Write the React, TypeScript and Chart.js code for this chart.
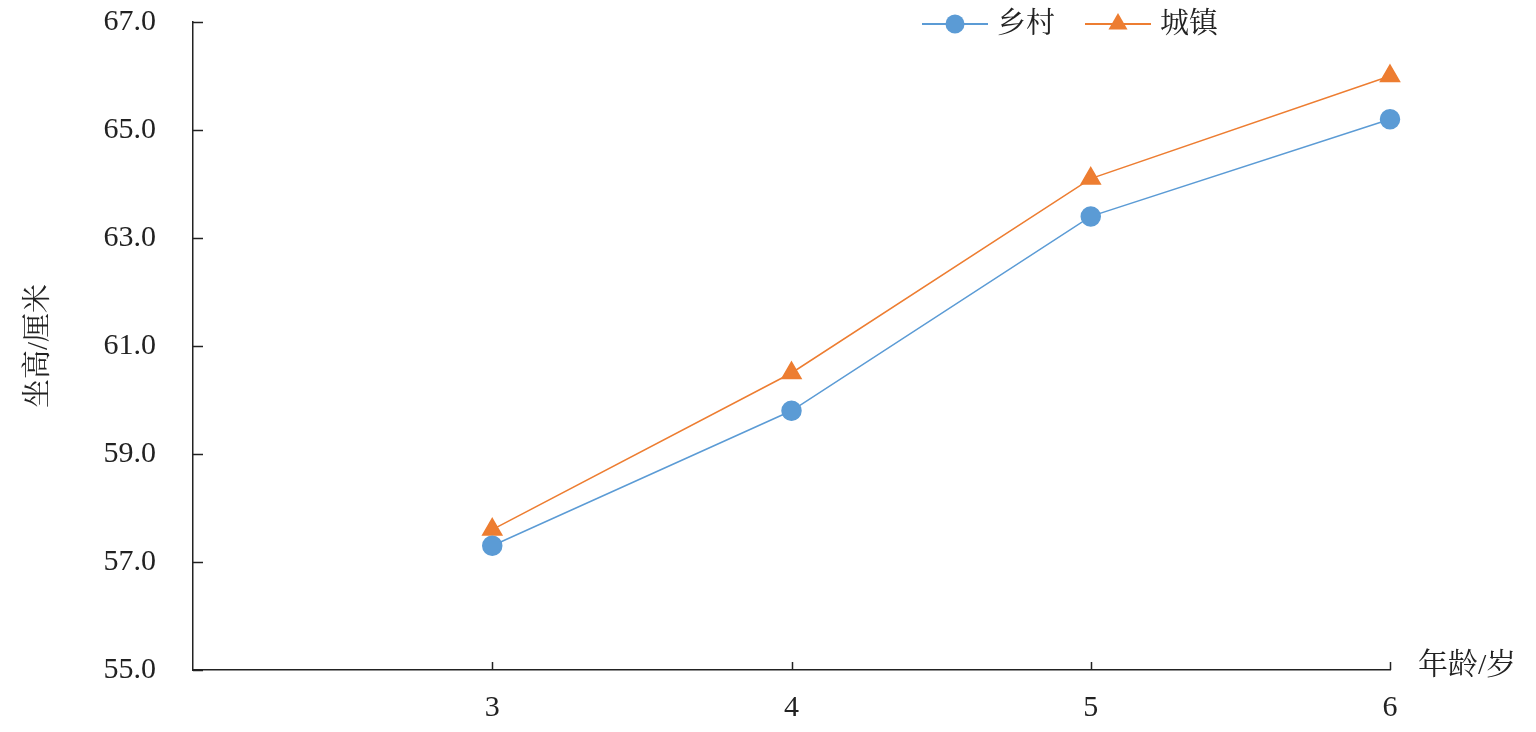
import React, { useEffect, useRef } from "react";
import { Chart, registerables } from "chart.js";
Chart.register(...registerables);

const ages = [3, 4, 5, 6];
const rural = [57.3, 59.8, 63.4, 65.2];
const urban = [57.6, 60.5, 64.1, 66.0];
const seriesNames = ["乡村", "城镇"];
const xTitle = "年龄/岁";
const yTitle = "坐高/厘米";
const yMin = 55;
const yMax = 67;
const yStep = 2;
const xMin = 2;
const xMax = 6;

const FONT = '"Liberation Serif", "Noto Serif CJK SC", "Noto Sans CJK SC", serif';
const BLUE = "#5B9BD5";
const ORANGE = "#ED7D31";
const AXIS = "#222222";

const innerTicks = {
  id: "innerTicks",
  afterDraw(chart: any) {
    const { ctx, chartArea, scales } = chart;
    ctx.save();
    ctx.strokeStyle = AXIS;
    ctx.lineWidth = 1.5;
    scales.y.ticks.forEach((t: any) => {
      const y = Math.round(scales.y.getPixelForValue(t.value)) + 0.5;
      ctx.beginPath();
      ctx.moveTo(chartArea.left, y);
      ctx.lineTo(chartArea.left + 10, y);
      ctx.stroke();
    });
    scales.x.ticks.forEach((t: any) => {
      if (t.value === xMin) return;
      const x = Math.round(scales.x.getPixelForValue(t.value)) + 0.5;
      ctx.beginPath();
      ctx.moveTo(x, chartArea.bottom);
      ctx.lineTo(x, chartArea.bottom - 8);
      ctx.stroke();
    });
    // x axis title at right end
    ctx.fillStyle = AXIS;
    ctx.font = `30px ${FONT}`;
    ctx.textAlign = "left";
    ctx.textBaseline = "middle";
    ctx.fillText(xTitle, chartArea.right + 28, chartArea.bottom - 4);
    ctx.restore();
  },
};

const customLegend = {
  id: "customLegend",
  afterDraw(chart: any) {
    const { ctx } = chart;
    ctx.save();
    let x = 922;
    const y = 24;
    ctx.font = `29px ${FONT}`;
    ctx.textBaseline = "middle";
    ctx.textAlign = "left";
    chart.data.datasets.forEach((ds: any) => {
      ctx.strokeStyle = ds.borderColor;
      ctx.lineWidth = 2;
      ctx.beginPath();
      ctx.moveTo(x, y);
      ctx.lineTo(x + 66, y);
      ctx.stroke();
      ctx.fillStyle = ds.pointBackgroundColor;
      const cx = x + 33;
      if (ds.pointStyle === "triangle") {
        const r = ds.pointRadius;
        ctx.beginPath();
        ctx.moveTo(cx, y - r);
        ctx.lineTo(cx + r * Math.sin(Math.PI / 3), y + r * 0.5);
        ctx.lineTo(cx - r * Math.sin(Math.PI / 3), y + r * 0.5);
        ctx.closePath();
        ctx.fill();
      } else {
        ctx.beginPath();
        ctx.arc(cx, y, ds.pointRadius, 0, Math.PI * 2);
        ctx.fill();
      }
      ctx.fillStyle = AXIS;
      ctx.fillText(ds.label, x + 75, y + 1);
      x += 75 + ctx.measureText(ds.label).width + 30;
    });
    ctx.restore();
  },
};

export default function App() {
  const ref = useRef<HTMLCanvasElement>(null);
  useEffect(() => {
    if (!ref.current) return;
    const chart = new Chart(ref.current, {
      type: "line",
      data: {
        datasets: [
          {
            label: seriesNames[0],
            data: ages.map((a, i) => ({ x: a, y: rural[i] })),
            borderColor: BLUE,
            backgroundColor: BLUE,
            pointBackgroundColor: BLUE,
            pointBorderColor: BLUE,
            pointStyle: "circle",
            pointRadius: 9.5,
            borderWidth: 1.5,
            tension: 0,
            clip: false,
          },
          {
            label: seriesNames[1],
            data: ages.map((a, i) => ({ x: a, y: urban[i] })),
            borderColor: ORANGE,
            backgroundColor: ORANGE,
            pointBackgroundColor: ORANGE,
            pointBorderColor: ORANGE,
            pointStyle: "triangle",
            pointRadius: 11,
            borderWidth: 1.5,
            tension: 0,
            clip: false,
          },
        ],
      },
      options: {
        animation: false,
        responsive: true,
        maintainAspectRatio: false,
        layout: { padding: { top: 22, right: 146, left: 0, bottom: 0 } },
        plugins: {
          legend: { display: false },
          tooltip: { enabled: false },
        },
        scales: {
          x: {
            type: "linear",
            min: xMin,
            max: xMax,
            ticks: {
              stepSize: 1,
              color: AXIS,
              font: { family: FONT, size: 30 },
              padding: 20,
              callback: (v: any) => (v === xMin ? "" : String(v)),
              maxRotation: 0,
            },
            grid: { display: false, drawTicks: false },
            border: { display: true, color: AXIS, width: 1.5 },
            afterFit: (s: any) => {
              s.height = 62;
              s.paddingLeft = 0;
              s.paddingRight = 0;
            },
          },
          y: {
            min: yMin,
            max: yMax,
            ticks: {
              stepSize: yStep,
              color: AXIS,
              font: { family: FONT, size: 30 },
              padding: 37,
              callback: (v: any) => Number(v).toFixed(1),
            },
            grid: { display: false, drawTicks: false },
            border: { display: true, color: AXIS, width: 1.5 },
            title: {
              display: true,
              text: yTitle,
              color: AXIS,
              font: { family: FONT, size: 29 },
              padding: { top: 22, bottom: 0 },
            },
            afterFit: (s: any) => {
              s.width = 193;
              s.paddingTop = 0;
              s.paddingBottom = 0;
            },
          },
        },
      },
      plugins: [innerTicks, customLegend],
    });
    return () => chart.destroy();
  }, []);
  return (
    <div style={{ position: "fixed", left: 0, top: 0, width: 1536, height: 732, background: "#fff" }}>
      <canvas ref={ref} />
    </div>
  );
}
